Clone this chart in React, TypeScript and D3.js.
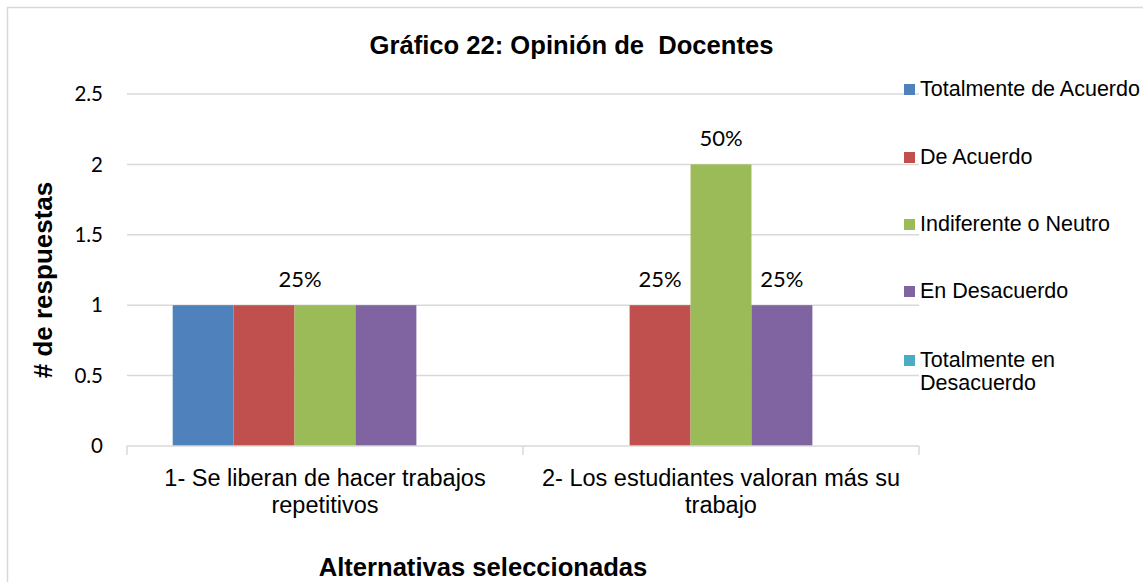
import React from "react";
import * as d3 from "d3";

const categories = ["1- Se liberan de hacer trabajos repetitivos", "2- Los estudiantes valoran más su trabajo"];
const categoryLines = [["1- Se liberan de hacer trabajos", "repetitivos"], ["2- Los estudiantes valoran más su", "trabajo"]];
const seriesNames = ["Totalmente de Acuerdo", "De Acuerdo", "Indiferente o Neutro", "En Desacuerdo", "Totalmente en Desacuerdo"];
const legendLines = [["Totalmente de Acuerdo"], ["De Acuerdo"], ["Indiferente o Neutro"], ["En Desacuerdo"], ["Totalmente en", "Desacuerdo"]];
const seriesColors = ["#4f81bd", "#c0504d", "#9bbb59", "#8064a2", "#4bacc6"];
const values = [
  [1, 1, 1, 1, 0],
  [0, 1, 2, 1, 0],
];
// data labels: [category index, series index, text]
const dataLabels: [number, number, string][] = [
  [0, 2, "25%"],
  [1, 1, "25%"],
  [1, 2, "50%"],
  [1, 3, "25%"],
];
const labelShift: Record<string, number> = { "0-2": -25 };
const yTicks = [0, 0.5, 1, 1.5, 2, 2.5];

export default function App() {
  const W = 1143, H = 582;
  const left = 127, right = 919, top = 94, bottom = 446;
  const y = d3.scaleLinear().domain([0, 2.5]).range([bottom, top]);
  const x0 = d3.scaleBand<string>().domain(categories).range([left, right]).paddingInner(0).paddingOuter(0);
  const x1 = d3.scaleBand<string>().domain(seriesNames).range([0, x0.bandwidth()]).paddingInner(0).paddingOuter(0.75);
  const grid = "#d9d9d9";
  const tickFont = "Lato, 'Open Sans', sans-serif";
  const arial = "'Liberation Sans', Arial, sans-serif";
  const legendBase = [96, 164, 231, 298, 367];

  return (
    <svg width={W} height={H} style={{ position: "absolute", left: 0, top: 0, background: "#fff" }}>
      <rect x={0} y={0} width={W} height={H} fill="#fff" />
      <rect x={7.5} y={7.5} width={1300} height={800} fill="none" stroke={grid} strokeWidth={1.5} />
      <text x={571.5} y={54} textAnchor="middle" fontFamily={arial} fontWeight="bold" fontSize={25.6} fill="#000" style={{ whiteSpace: "pre" }}>
        Gráfico 22: Opinión de  Docentes
      </text>
      {yTicks.filter(t => t > 0).map(t => (
        <line key={"g" + t} x1={left} x2={right} y1={y(t)} y2={y(t)} stroke={grid} strokeWidth={1.5} />
      ))}
      {yTicks.map(t => (
        <text key={"t" + t} x={103} y={y(t)} dy="0.35em" textAnchor="end" fontFamily={tickFont} fontSize={20.5} fill="#000">
          {String(t)}
        </text>
      ))}
      {values.map((row, ci) =>
        row.map((v, si) => (
          <rect
            key={ci + "-" + si}
            x={(x0(categories[ci]) as number) + (x1(seriesNames[si]) as number)}
            y={y(v)}
            width={x1.bandwidth()}
            height={bottom - y(v)}
            fill={seriesColors[si]}
          />
        ))
      )}
      <line x1={left} x2={right} y1={bottom} y2={bottom} stroke={grid} strokeWidth={1.5} />
      {[left, ...categories.map(c => (x0(c) as number) + x0.bandwidth())].map((px, i) => (
        <line key={"xt" + i} x1={px} x2={px} y1={bottom} y2={bottom + 9} stroke={grid} strokeWidth={1.5} />
      ))}
      {dataLabels.map(([ci, si, txt]) => {
        const cx = (x0(categories[ci]) as number) + (x1(seriesNames[si]) as number) + x1.bandwidth() / 2 + (labelShift[ci + "-" + si] || 0);
        return (
          <text key={"l" + ci + si} x={cx} y={y(values[ci][si]) - 18} textAnchor="middle" fontFamily={tickFont} fontSize={22} fill="#000">
            {txt}
          </text>
        );
      })}
      {categoryLines.map((lines, ci) => (
        <text key={"c" + ci} textAnchor="middle" fontFamily={arial} fontSize={23.5} fill="#000">
          {lines.map((ln, li) => (
            <tspan key={li} x={(x0(categories[ci]) as number) + x0.bandwidth() / 2} y={486 + li * 27}>
              {ln}
            </tspan>
          ))}
        </text>
      ))}
      <text transform={`translate(52,280) rotate(-90)`} textAnchor="middle" fontFamily={arial} fontWeight="bold" fontSize={26} fill="#000">
        # de respuestas
      </text>
      <text x={483} y={576} textAnchor="middle" fontFamily={arial} fontWeight="bold" fontSize={25.6} fill="#000">
        Alternativas seleccionadas
      </text>
      {seriesNames.map((s, i) => (
        <g key={"lg" + i}>
          <rect x={904} y={legendBase[i] - 12} width={11} height={11} fill={seriesColors[i]} />
          <text fontFamily={arial} fontSize={21.5} fill="#000">
            {legendLines[i].map((ln, li) => (
              <tspan key={li} x={920} y={legendBase[i] + li * 23}>
                {ln}
              </tspan>
            ))}
          </text>
        </g>
      ))}
    </svg>
  );
}
